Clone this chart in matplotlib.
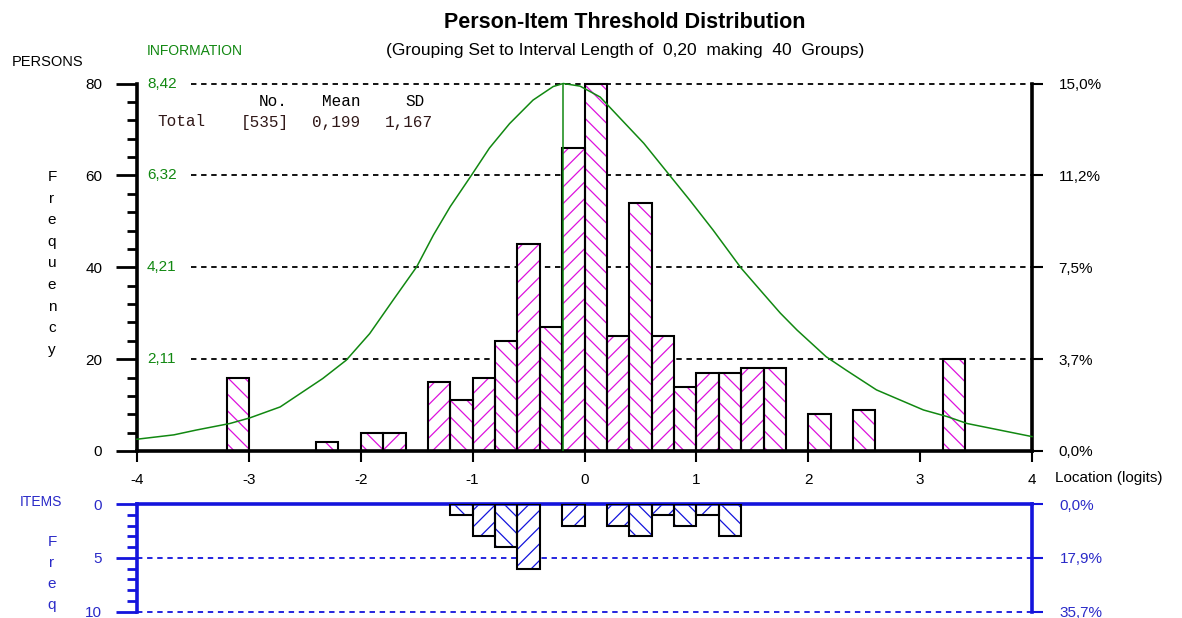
import matplotlib
matplotlib.use("Agg")
import matplotlib.pyplot as plt
from matplotlib.ticker import MultipleLocator

plt.rcParams['font.family'] = ['Liberation Sans', 'DejaVu Sans']
plt.rcParams['hatch.linewidth'] = 0.9
plt.rcParams['axes.unicode_minus'] = False

# persons per group of 0.2 logits (left edge of each group)
person_loc = [-3.2, -2.4, -2.0, -1.8, -1.4, -1.2, -1.0, -0.8, -0.6, -0.4, -0.2, 0.0,
              0.2, 0.4, 0.6, 0.8, 1.0, 1.2, 1.4, 1.6, 2.0, 2.4, 3.2]
person_n = [16, 2, 4, 4, 15, 11, 16, 24, 45, 27, 66, 80,
            25, 54, 25, 14, 17, 17, 18, 18, 8, 9, 20]

# item thresholds per group
item_loc = [-1.2, -1.0, -0.8, -0.6, -0.2, 0.2, 0.4, 0.6, 0.8, 1.0, 1.2]
item_n = [1, 3, 4, 6, 2, 2, 3, 1, 2, 1, 3]

# test information curve
info_loc = [-4.0, -3.67, -3.47, -3.17, -2.99, -2.72, -2.34, -2.13, -1.92, -1.71, -1.50,
            -1.35, -1.20, -1.01, -0.85, -0.67, -0.46, -0.28, -0.19, -0.04, 0.14, 0.32,
            0.53, 0.76, 0.94, 1.15, 1.40, 1.60, 1.75, 1.90, 2.16, 2.34, 2.61, 2.82,
            3.03, 3.24, 3.42, 3.71, 4.0]
info_val = [0.27, 0.37, 0.48, 0.63, 0.76, 1.01, 1.66, 2.08, 2.69, 3.46, 4.22,
            4.95, 5.60, 6.32, 6.94, 7.50, 8.04, 8.35, 8.42, 8.36, 8.11, 7.62,
            7.05, 6.32, 5.75, 5.06, 4.19, 3.60, 3.16, 2.77, 2.16, 1.85, 1.40, 1.17,
            0.94, 0.79, 0.63, 0.48, 0.33]
info_peak = -0.19
info_max = 8.42
info_ticks = [2.11, 4.21, 6.32, 8.42]

freq_ticks = [0, 20, 40, 60, 80]
pct_labels = ["0,0%", "3,7%", "7,5%", "11,2%", "15,0%"]
item_ticks = [0, 5, 10]
item_pct = ["0,0%", "17,9%", "35,7%"]

W, H = 1182, 618
fig = plt.figure(figsize=(W / 100, H / 100), dpi=100)

def fx(x):
    return x / W

def fy(y):
    return 1 - y / H

magenta = '#dd11dd'
green = '#118811'
blue = '#1414dc'
blue_txt = '#2a2ac8'

# ---------------- persons panel ----------------
ax = fig.add_axes([fx(137), fy(451), fx(1032 - 137), (451 - 83.5) / H])
ax.set_xlim(-4, 4)
ax.set_ylim(0, 80)
ax.patch.set_alpha(0)

for g in freq_ticks[1:]:
    ax.hlines(g, -3.52, 4, colors='black', linestyles=(0, (3, 2.6)), linewidth=1.3,
              zorder=1, clip_on=False)

def hatch_for(loc):
    i = int(round((loc + 4) / 0.2))
    return '\\\\' if i % 2 == 0 else '//'

fills = ax.bar(person_loc, person_n, width=0.2, align='edge', color='white',
               edgecolor=magenta, linewidth=0, zorder=2)
for p, loc in zip(fills, person_loc):
    p.set_hatch(hatch_for(loc))
ax.bar(person_loc, person_n, width=0.2, align='edge', fill=False,
       edgecolor='black', linewidth=1.5, zorder=3, clip_on=False)

for s in ['left', 'bottom', 'right']:
    ax.spines[s].set_linewidth(2.6)
ax.spines['top'].set_visible(False)
ax.set_yticks(freq_ticks)
ax.yaxis.set_minor_locator(MultipleLocator(4))
ax.tick_params(axis='y', which='major', length=15, width=2, pad=10, labelsize=11)
ax.tick_params(axis='y', which='minor', length=7, width=2)
ax.set_xticks(range(-4, 5))
ax.tick_params(axis='x', length=8, width=1.5, pad=8, labelsize=11)

ax_pct = ax.twinx()
ax_pct.set_ylim(0, 80)
ax_pct.set_yticks(freq_ticks, pct_labels)
ax_pct.tick_params(axis='y', length=8, width=1.5, pad=11, labelsize=11)
for s in ax_pct.spines.values():
    s.set_visible(False)

ax_info = ax.twinx()
ax_info.set_ylim(0, info_max)
ax_info.set_yticks([])
for s in ax_info.spines.values():
    s.set_visible(False)
ax_info.plot(info_loc, info_val, color=green, linewidth=1.1, zorder=5, clip_on=False)
ax_info.vlines(info_peak, 0, info_max, colors=green, linewidth=1.1, zorder=5)
for v in info_ticks:
    ax_info.text(-3.91, v, f"{v:.2f}".replace('.', ','), color=green, fontsize=11,
                 va='center', ha='left')

# ---------------- items panel ----------------
axb = fig.add_axes([fx(137), fy(611.5), fx(1032 - 137), (611.5 - 504) / H])
axb.set_xlim(-4, 4)
axb.set_ylim(10, 0)
axb.patch.set_alpha(0)

axb.hlines([5, 10], -4, 4, colors=blue, linestyles=(0, (3, 2.6)), linewidth=1.3,
           zorder=1, clip_on=False)
ifills = axb.bar(item_loc, item_n, width=0.2, align='edge', color='white',
                 edgecolor=blue, linewidth=0, zorder=2)
for p, loc in zip(ifills, item_loc):
    p.set_hatch(hatch_for(loc))
axb.bar(item_loc, item_n, width=0.2, align='edge', fill=False,
        edgecolor='black', linewidth=1.5, zorder=3)

for s in ['left', 'top', 'right']:
    axb.spines[s].set_linewidth(2.6)
    axb.spines[s].set_color(blue)
axb.spines['bottom'].set_visible(False)
axb.set_xticks([])
axb.set_yticks(item_ticks)
axb.yaxis.set_minor_locator(MultipleLocator(1))
axb.tick_params(axis='y', which='major', length=15, width=2, pad=10, labelsize=11,
                color=blue, labelcolor=blue_txt)
axb.tick_params(axis='y', which='minor', length=7, width=2, color=blue)

axb_pct = axb.twinx()
axb_pct.set_ylim(10, 0)
axb_pct.set_yticks(item_ticks, item_pct)
axb_pct.tick_params(axis='y', length=8, width=1.5, pad=12, labelsize=11,
                    color=blue, labelcolor=blue_txt)
for s in axb_pct.spines.values():
    s.set_visible(False)

# ---------------- texts ----------------
fig.text(fx(625), fy(22), "Person-Item Threshold Distribution", ha='center', va='center',
         fontsize=15.5, fontweight='bold')
fig.text(fx(625), fy(51), "(Grouping Set to Interval Length of  0,20  making  40  Groups)",
         ha='center', va='center', fontsize=12.5)
fig.text(fx(12), fy(62), "PERSONS", ha='left', va='center', fontsize=10.5)
fig.text(fx(147), fy(51), "INFORMATION", ha='left', va='center', fontsize=10, color=green)
fig.text(fx(1055), fy(478), "Location (logits)", ha='left', va='center', fontsize=11)

for i, ch in enumerate("Frequency"):
    fig.text(fx(52), fy(177 + i * 21.6), ch, ha='center', va='center', fontsize=11)
fig.text(fx(41), fy(502), "ITEMS", ha='center', va='center', fontsize=10, color=blue_txt)
for i, ch in enumerate("Freq"):
    fig.text(fx(52), fy(542 + i * 21), ch, ha='center', va='center', fontsize=11, color=blue_txt)

mono = dict(family=['Liberation Mono', 'DejaVu Sans Mono'], fontsize=11.5, va='center')
fig.text(fx(259), fy(101), "No.", ha='left', **mono)
fig.text(fx(322), fy(101), "Mean", ha='left', **mono)
fig.text(fx(405), fy(101), "SD", ha='left', **mono)
fig.text(fx(157), fy(122), "Total", ha='left', color='#301818', **mono)
fig.text(fx(241), fy(122), "[535]", ha='left', color='#301818', **mono)
fig.text(fx(312), fy(122), "0,199", ha='left', color='#301818', **mono)
fig.text(fx(385), fy(122), "1,167", ha='left', color='#301818', **mono)

fig.savefig("out.png", dpi=100)
